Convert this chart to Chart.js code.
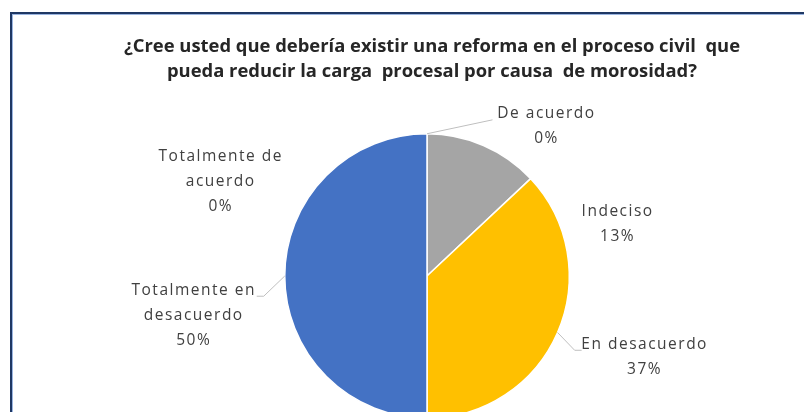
<!DOCTYPE html>
<html>
<head>
<meta charset="utf-8">
<script src="https://cdn.jsdelivr.net/npm/chart.js@4/dist/chart.umd.min.js"></script>
<style>
  html, body { margin: 0; padding: 0; background: #fff; overflow: hidden; }
  #frame {
    position: absolute; left: 10px; top: 12px; width: 900px; height: 500px;
    border-top: 2px solid #1f3864; border-left: 2px solid #1f3864;
    box-shadow: inset 1px 1px 0 #9bb5e0;
  }
  #wrap { position: absolute; left: 0; top: 0; width: 804px; height: 450px; }
</style>
</head>
<body>
<div id="frame"></div>
<div id="wrap"><canvas id="pieChart"></canvas></div>
<script>
const titleLines = [
    '¿Cree usted que debería existir una reforma en el proceso civil  que',
    'pueda reducir la carga  procesal por causa  de morosidad?'
];
const categories = [
    ['Totalmente de', 'acuerdo'],
    ['De acuerdo'],
    ['Indeciso'],
    ['En desacuerdo'],
    ['Totalmente en', 'desacuerdo']
];
const percents = [0, 0, 13, 37, 50];
const sliceColors = ['#4472c4', '#ed7d31', '#a5a5a5', '#ffc000', '#4472c4'];

// label anchors relative to pie centre (in radii), leader line points in px relative to anchor
const labelPlace = [
    { dx: -1.45, dy: -0.84 },
    { dx: 0.84, dy: -1.14, line: [[-54, 6]] },
    { dx: 1.34, dy: -0.45 },
    { dx: 1.53, dy: 0.48, line: [[-70, 6], [-63, 6]] },
    { dx: -1.64, dy: 0.10, line: [[70, 6], [63, 6]] }
];

const sliceLabels = {
    id: 'sliceLabels',
    beforeDraw(chart) {
        const ctx = chart.ctx;
        ctx.save();
        ctx.fillStyle = '#262626';
        ctx.font = 'bold 18.4px "Open Sans", sans-serif';
        ctx.textAlign = 'center';
        ctx.textBaseline = 'middle';
        titleLines.forEach((t, i) => ctx.fillText(t, 432, 47 + i * 25));
        ctx.restore();
    },
    afterDatasetsDraw(chart) {
        const ctx = chart.ctx;
        const arcs = chart.getDatasetMeta(0).data;
        ctx.save();
        arcs.forEach((arc, i) => {
            const p = labelPlace[i];
            const r = arc.outerRadius;
            const tx = arc.x + p.dx * r;
            const ty = arc.y + p.dy * r;
            if (p.line) {
                const mid = (arc.startAngle + arc.endAngle) / 2;
                ctx.strokeStyle = '#bfbfbf';
                ctx.lineWidth = 1;
                ctx.beginPath();
                ctx.moveTo(arc.x + Math.cos(mid) * r, arc.y + Math.sin(mid) * r);
                p.line.forEach(pt => ctx.lineTo(tx + pt[0], ty + pt[1]));
                ctx.stroke();
            }
            const lines = categories[i].concat([percents[i] + '%']);
            ctx.fillStyle = '#404040';
            ctx.font = '15.5px "Open Sans", sans-serif';
            ctx.letterSpacing = '1.5px';
            ctx.textAlign = 'center';
            ctx.textBaseline = 'middle';
            lines.forEach((t, k) => ctx.fillText(t, tx, ty + k * 25));
        });
        ctx.restore();
    }
};

new Chart(document.getElementById('pieChart'), {
    type: 'pie',
    data: {
        labels: categories.map(c => c.join(' ')),
        datasets: [{
            data: percents,
            backgroundColor: sliceColors,
            borderColor: '#ffffff',
            borderWidth: 1.5
        }]
    },
    options: {
        responsive: true,
        maintainAspectRatio: false,
        animation: false,
        layout: { padding: { left: 284, right: 234, top: 133, bottom: 31 } },
        plugins: {
            legend: { display: false },
            title: { display: false },
            tooltip: { enabled: false }
        }
    },
    plugins: [sliceLabels]
});
</script>
</body>
</html>
